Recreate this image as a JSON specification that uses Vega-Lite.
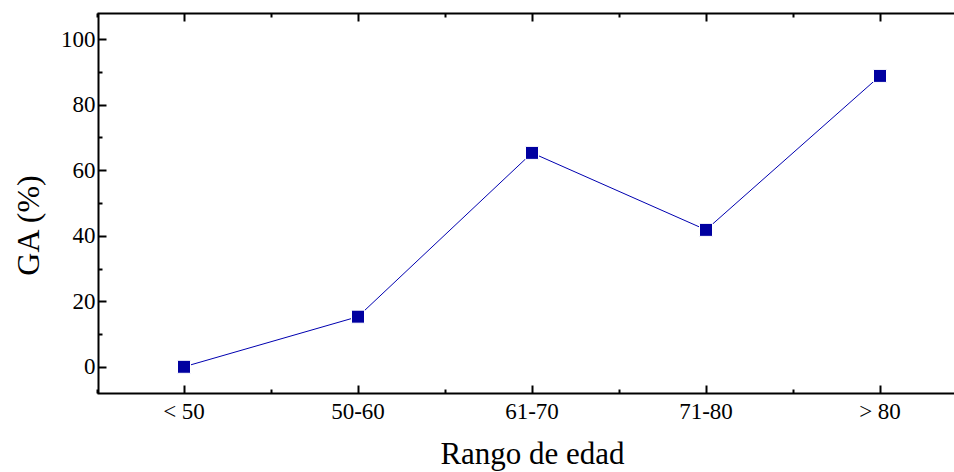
{
  "$schema": "https://vega.github.io/schema/vega-lite/v6.json",
  "autosize": "none",
  "width": 856,
  "height": 380,
  "padding": {"left": 98, "top": 13, "right": 0, "bottom": 79},
  "background": "white",
  "config": {
    "view": {"stroke": null},
    "font": "Liberation Serif",
    "axis": {
      "domainColor": "black", "domainWidth": 2, "tickColor": "black", "tickWidth": 2,
      "labelFont": "Liberation Serif", "labelFontSize": 23, "labelColor": "black",
      "titleFont": "Liberation Serif", "titleFontSize": 31, "titleFontWeight": "normal", "titleColor": "black",
      "grid": false
    }
  },
  "data": {"values": [
    {"rango": "< 50", "ga": 0},
    {"rango": "50-60", "ga": 15.3},
    {"rango": "61-70", "ga": 65.3},
    {"rango": "71-80", "ga": 41.8},
    {"rango": "> 80", "ga": 88.8}
  ]},
  "resolve": {"axis": {"x": "independent", "y": "independent"}},
  "encoding": {
    "x": {"field": "rango", "type": "nominal", "sort": null,
      "scale": {"type": "band", "range": [-1, 869], "paddingInner": 0, "paddingOuter": 0}},
    "y": {"field": "ga", "type": "quantitative", "scale": {"domain": [-8, 108], "nice": false, "zero": false}}
  },
  "layer": [
    {
      "mark": {"type": "line", "color": "#0000B0", "strokeWidth": 1},
      "encoding": {
        "x": {"field": "rango", "type": "nominal", "sort": null,
          "axis": {"orient": "bottom", "title": "Rango de edad", "labelAngle": 0, "tickSize": -8, "labelPadding": 15, "titlePadding": 16, "labelAlign": "center", "titleX": 434,
            "labelFont": "Liberation Serif", "labelFontSize": 23, "titleFont": "Liberation Serif", "titleFontSize": 31, "titleFontWeight": "normal", "labelColor": "black", "titleColor": "black"}},
        "y": {"field": "ga", "type": "quantitative",
          "axis": {"orient": "left", "title": "GA (%)", "values": [0,10,20,30,40,50,60,70,80,90,100],
            "labelExpr": "datum.value % 20 === 0 ? datum.label : ''",
            "tickSize": {"condition": {"test": "datum.value % 20 !== 0", "value": -4}, "value": -8},
            "labelPadding": 11, "titleX": -53, "titleY": 212,
            "labelFont": "Liberation Serif", "labelFontSize": 23, "titleFont": "Liberation Serif", "titleFontSize": 32, "titleFontWeight": "normal", "labelColor": "black", "titleColor": "black"}}
      }
    },
    {
      "mark": {"type": "point", "shape": "square", "filled": true, "size": 169, "color": "#0000A0", "stroke": "white", "strokeWidth": 1, "opacity": 1},
      "encoding": {
        "x": {"field": "rango", "type": "nominal", "sort": null,
          "axis": {"orient": "bottom", "title": null, "labels": false, "tickBand": "extent", "tickSize": -4, "domain": false}},
        "y": {"field": "ga", "type": "quantitative", "axis": null}
      }
    },
    {
      "mark": {"type": "point", "opacity": 0},
      "encoding": {
        "x": {"field": "rango", "type": "nominal", "sort": null,
          "axis": {"orient": "top", "title": null, "labels": false, "tickSize": -8}},
        "y": {"field": "ga", "type": "quantitative", "axis": null}
      }
    },
    {
      "mark": {"type": "point", "opacity": 0},
      "encoding": {
        "x": {"field": "rango", "type": "nominal", "sort": null,
          "axis": {"orient": "top", "title": null, "labels": false, "tickBand": "extent", "tickSize": -4, "domain": false}},
        "y": {"field": "ga", "type": "quantitative", "axis": null}
      }
    }
  ]
}
